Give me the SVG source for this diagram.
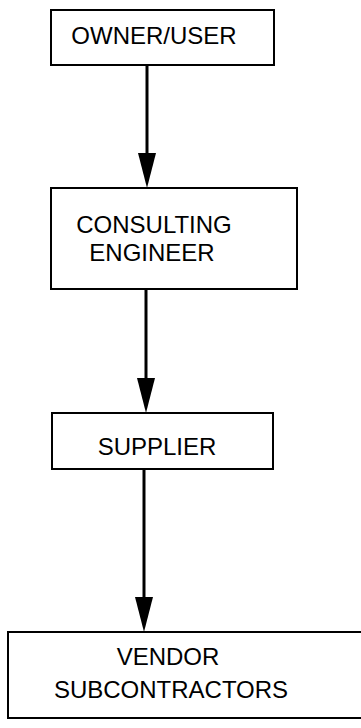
<svg xmlns="http://www.w3.org/2000/svg" width="361" height="728" viewBox="0 0 361 728">
  <style>
    .box { fill: #ffffff; stroke: #000000; stroke-width: 2; }
    .label { font-family: "Liberation Sans", Arial, Helvetica, sans-serif; font-size: 24px; fill: #000000; text-anchor: middle; }
    .flow { stroke: #000000; stroke-width: 3; fill: none; marker-end: url(#head); }
  </style>
  <defs>
    <!-- solid triangular arrowhead; the line stops 20px short of the tip -->
    <marker id="head" markerUnits="userSpaceOnUse" markerWidth="35" markerHeight="18" refX="15" refY="9" orient="auto" overflow="visible">
      <path d="M0,0 L35,9 L0,18 Z" fill="#000000"/>
    </marker>
  </defs>
  <rect width="361" height="728" fill="#ffffff"/>

  <g id="connectors">
    <line class="flow" x1="147" y1="65" x2="147" y2="168"/>
    <line class="flow" x1="146" y1="289" x2="146" y2="393"/>
    <line class="flow" x1="144" y1="469" x2="144" y2="612"/>
  </g>

  <g id="owner-user">
    <rect class="box" x="51" y="10" width="223" height="55"/>
    <text class="label" x="154" y="44">OWNER/USER</text>
  </g>

  <g id="consulting-engineer">
    <rect class="box" x="51" y="188" width="246" height="101"/>
    <text class="label" x="154" y="233">CONSULTING</text>
    <text class="label" x="152" y="261">ENGINEER</text>
  </g>

  <g id="supplier">
    <rect class="box" x="52" y="413" width="221" height="56"/>
    <text class="label" x="157" y="455">SUPPLIER</text>
  </g>

  <g id="vendor-subcontractors">
    <rect class="box" x="8" y="632" width="360" height="86"/>
    <text class="label" x="168" y="665">VENDOR</text>
    <text class="label" x="171" y="698">SUBCONTRACTORS</text>
  </g>
</svg>
